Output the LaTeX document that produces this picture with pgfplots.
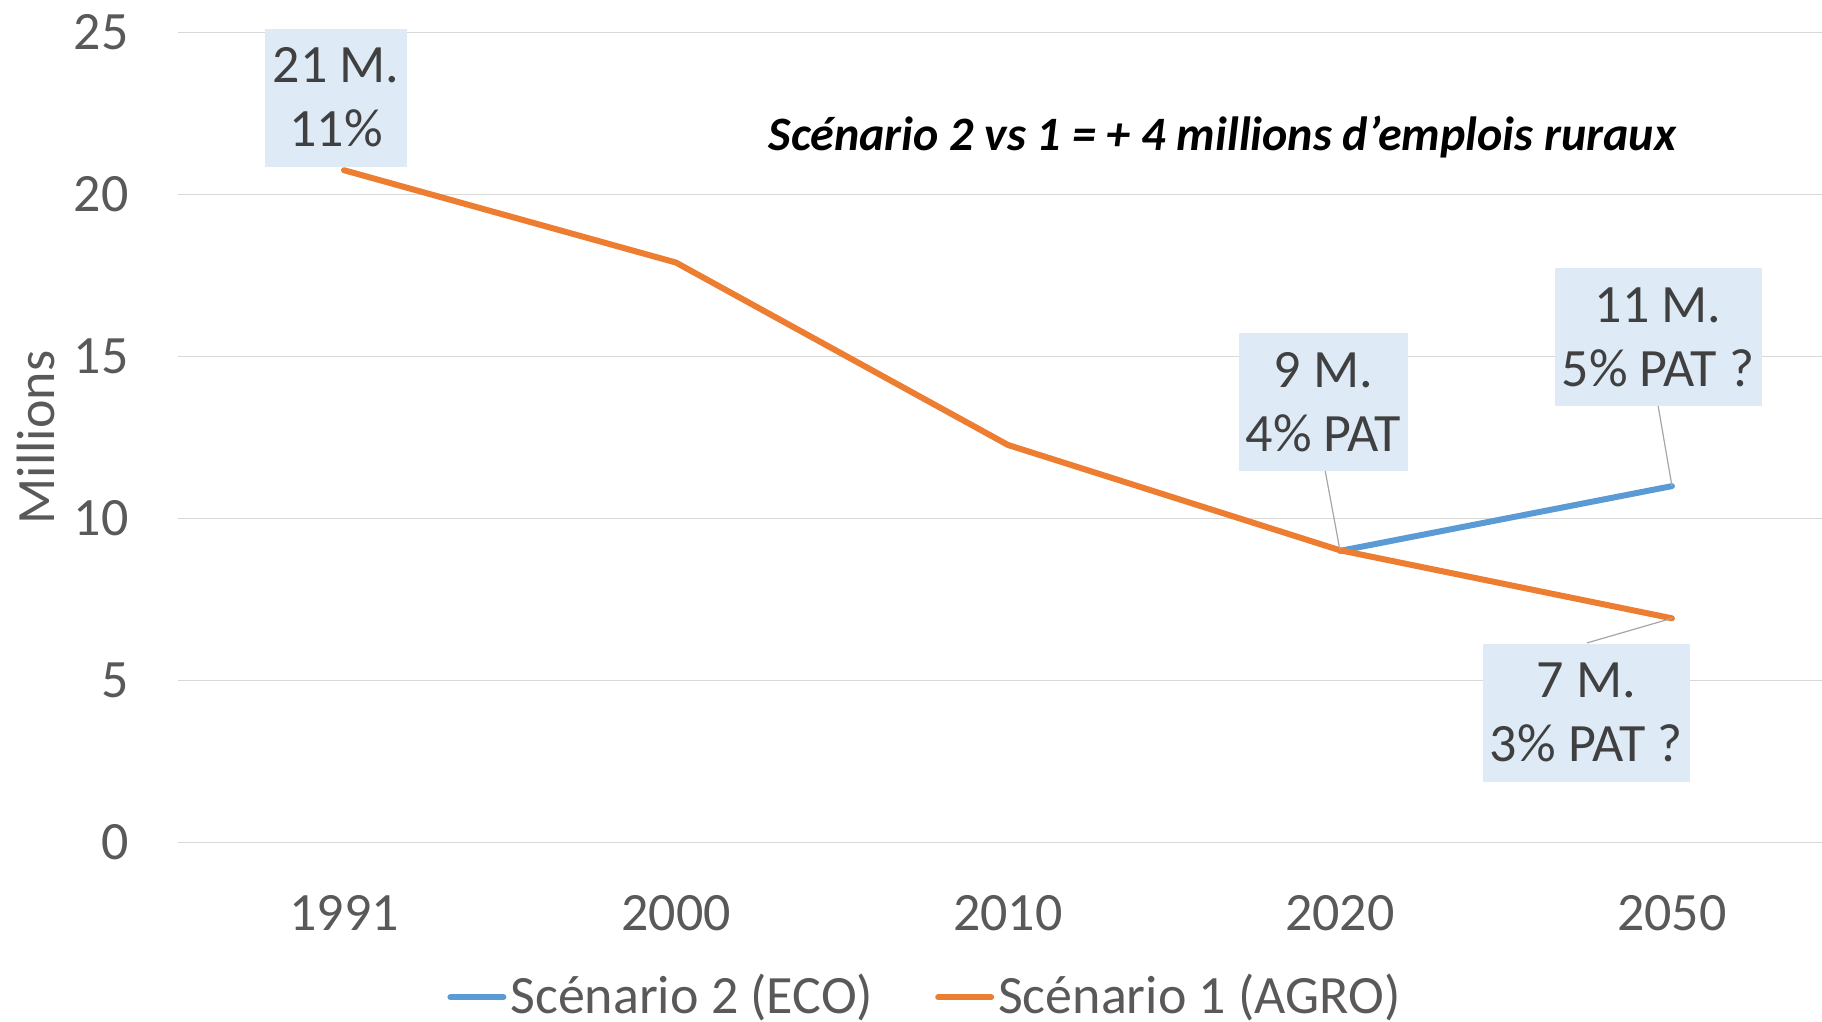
\documentclass[border=0pt]{standalone}
\usepackage{pgfplots}
\pgfplotsset{compat=1.18}
\usepackage{fontspec}
\setmainfont{Carlito}
\definecolor{cblue}{HTML}{5B9BD5}
\definecolor{corange}{HTML}{ED7D31}
\definecolor{cgrid}{HTML}{D9D9D9}
\definecolor{ctick}{HTML}{595959}
\definecolor{ctext}{HTML}{404040}
\definecolor{cbox}{HTML}{DEEBF7}
\definecolor{clead}{HTML}{A6A6A6}
\begin{document}
\begin{tikzpicture}
\begin{axis}[
  at={(0,0)}, anchor=south west,
  scale only axis,
  width=411pt, height=202.5pt,
  xmin=-0.5, xmax=4.452,
  ymin=0, ymax=25,
  clip=false,
  axis line style={draw=none},
  ymajorgrids,
  grid style={cgrid, line width=0.4pt},
  major tick length=0pt,
  xtick={0,1,2,3,4},
  xticklabels={1991,2000,2010,2020,2050},
  ytick={0,5,10,15,20,25},
  /pgf/number format/assume math mode=true,
  tick label style={font=\fontsize{13.5}{16}\selectfont, text=ctick},
  xticklabel style={anchor=north, inner sep=0pt, yshift=-13.1pt},
  yticklabel style={anchor=east, inner sep=0pt, xshift=-12.2pt},
  ylabel={Millions},
  ylabel style={at={(axis description cs:-0.0864,0.5)}, anchor=center, rotate=0, font=\fontsize{13.5}{16}\selectfont, text=ctick},
  legend style={draw=none, fill=none, at={(0.455,-0.191)}, anchor=center,
    font=\fontsize{13.5}{16}\selectfont, text=ctick,
    /tikz/every even column/.append style={column sep=14.5pt},
    nodes={inner sep=1pt}},
  legend columns=2,
  legend image code/.code={\draw[#1] (0pt,0pt) -- (13.25pt,0pt);},
]
\addplot[cblue, line width=1.5pt, line cap=round] coordinates {(3,9.0) (4,11.0)};
\addlegendentry{Scénario 2 (ECO)}
\addplot[corange, line width=1.5pt, line cap=round, line join=round] coordinates {(0,20.75) (1,17.9) (2,12.27) (3,9.02) (4,6.92)};
\addlegendentry{Scénario 1 (AGRO)}

% leader lines
\draw[clead, line width=0.3pt] (axis cs:2.955,11.5) -- (axis cs:3,9.02);
\draw[clead, line width=0.3pt] (axis cs:3.958,13.5) -- (axis cs:4,11.0);
\draw[clead, line width=0.3pt] (axis cs:3.744,6.16) -- (axis cs:4,6.92);

\tikzset{lbl/.style={fill=cbox, text=ctext, align=center, inner sep=0pt,
  minimum height=34.5pt, font=\fontsize{13.5}{16}\selectfont}}
\node[lbl, minimum width=35.5pt] at (axis cs:-0.024,22.99) {\raisebox{-0.7pt}{21 M.}\\\raisebox{-0.7pt}{11\%}};
\node[lbl, minimum width=42.25pt] at (axis cs:2.950,13.60) {\raisebox{-0.7pt}{9 M.}\\\raisebox{-0.7pt}{4\% PAT}};
\node[lbl, minimum width=51.75pt] at (axis cs:3.958,15.60) {\raisebox{-0.7pt}{11 M.}\\\raisebox{-0.7pt}{5\% PAT ?}};
\node[lbl, minimum width=51.75pt] at (axis cs:3.742,4.01) {\raisebox{-0.7pt}{7 M.}\\\raisebox{-0.7pt}{3\% PAT ?}};

\node[font=\fontsize{12}{15}\selectfont\bfseries\itshape, text=black] at (axis cs:2.646,21.78) {Scénario 2 vs 1 = + 4 millions d’emplois ruraux};
\end{axis}
\pgfresetboundingbox
\useasboundingbox (-44.5pt,-44.625pt) rectangle (411pt,210.625pt);
\end{tikzpicture}
\end{document}
